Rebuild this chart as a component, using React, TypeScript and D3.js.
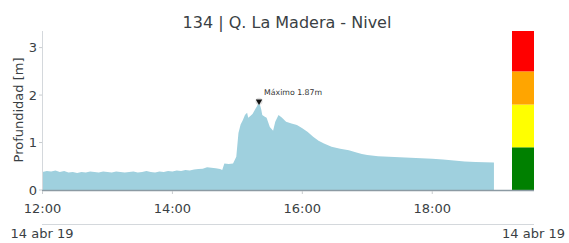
import React from "react";
import * as d3 from "d3";

const times: string[] = [
  "12:00","12:04","12:08","12:12","12:16","12:20","12:24","12:28","12:32","12:36",
  "12:40","12:44","12:48","12:52","12:56","13:00","13:04","13:08","13:12","13:16",
  "13:20","13:24","13:28","13:32","13:36","13:40","13:44","13:48","13:52","13:56",
  "14:00","14:04","14:08","14:12","14:16","14:20","14:24","14:28","14:32","14:36",
  "14:40","14:44","14:46","14:48","14:52","14:56","14:59","15:01","15:03","15:05",
  "15:07","15:09","15:10","15:12","15:14","15:17","15:18","15:20","15:22","15:23",
  "15:25","15:27","15:30","15:33","15:35","15:38","15:41","15:45","15:50","15:55",
  "16:00","16:05","16:10","16:15","16:20","16:27","16:35","16:43","16:50","16:55",
  "17:00","17:10","17:20","17:30","17:40","17:50","18:00","18:10","18:20","18:30",
  "18:40","18:57",
];
const levels: number[] = [
  0.38,0.40,0.39,0.41,0.38,0.40,0.37,0.38,0.36,0.38,
  0.37,0.39,0.38,0.37,0.39,0.38,0.37,0.39,0.38,0.37,
  0.38,0.39,0.37,0.38,0.40,0.38,0.37,0.39,0.38,0.40,
  0.39,0.41,0.40,0.42,0.41,0.43,0.44,0.45,0.48,0.47,
  0.46,0.44,0.42,0.56,0.55,0.56,0.70,1.20,1.38,1.47,
  1.58,1.63,1.52,1.56,1.60,1.72,1.76,1.87,1.70,1.58,
  1.55,1.52,1.33,1.25,1.44,1.58,1.53,1.44,1.40,1.37,
  1.30,1.22,1.12,1.04,0.98,0.91,0.87,0.84,0.79,0.76,
  0.74,0.71,0.70,0.69,0.68,0.67,0.66,0.64,0.62,0.60,
  0.59,0.58,
];
const xTickLabels: string[] = ["12:00", "14:00", "16:00", "18:00"];
const yTicks: number[] = [0, 1, 2, 3];
const dateLabel = "14 abr 19";
const title = "134 | Q. La Madera - Nivel";
const yLabel = "Profundidad [m]";
const thresholds: number[] = [0, 0.9, 1.8, 2.5, 3.35];
const thresholdColors: string[] = ["#008000", "#ffff00", "#ffa500", "#ff0000"];

const toMin = (s: string) => {
  const [h, m] = s.split(":").map(Number);
  return h * 60 + m;
};

export default function App() {
  const W = 569, H = 243;
  const x = d3.scaleLinear().domain([toMin("12:00"), toMin("19:34")]).range([42.5, 534]);
  const y = d3.scaleLinear().domain([0, 3.35]).range([190, 31]);
  const data = times.map((t, i) => ({ t: toMin(t), v: levels[i] }));
  const area = d3.area<{ t: number; v: number }>()
    .x(d => x(d.t)).y0(y(0)).y1(d => y(d.v));
  let maxI = 0;
  data.forEach((d, i) => { if (d.v > data[maxI].v) maxI = i; });
  const mx = x(data[maxI].t), my = y(data[maxI].v);
  const font = "DejaVu Sans, sans-serif";
  const textCol = "#3a3f44";
  return (
    <svg width={W} height={H} style={{ position: "absolute", left: 0, top: 0, background: "#fff" }}>
      <text x={287} y={28} textAnchor="middle" fontFamily={font} fontSize={16} fill={textCol}>{title}</text>
      <path d={area(data) || ""} fill="#9fd0de" />
      {/* y axis */}
      <line x1={42.5} x2={42.5} y1={31} y2={190} stroke="#d4d8dc" />
      {yTicks.map(t => (
        <g key={t}>
          <line x1={39} x2={42} y1={y(t)} y2={y(t)} stroke="#c8cccf" />
          <text x={37} y={y(t)} dy="0.35em" textAnchor="end" fontFamily={font} fontSize={13} fill={textCol}>{t}</text>
        </g>
      ))}
      <text transform={`translate(23,${110}) rotate(-90)`} textAnchor="middle" fontFamily={font} fontSize={13} fill={textCol}>{yLabel}</text>
      {/* threshold bar */}
      {thresholdColors.map((c, i) => (
        <rect key={c} x={512} width={22} y={y(thresholds[i + 1])} height={y(thresholds[i]) - y(thresholds[i + 1])} fill={c} />
      ))}
      {/* x axis */}
      <line x1={42} x2={534} y1={190.5} y2={190.5} stroke="#8c9aa3" strokeWidth={1.5} />
      {xTickLabels.map(l => (
        <g key={l}>
          <line x1={x(toMin(l))} x2={x(toMin(l))} y1={191} y2={194} stroke="#c8cccf" />
          <text x={x(toMin(l))} y={213} textAnchor="middle" fontFamily={font} fontSize={13} fill={textCol}>{l}</text>
        </g>
      ))}
      <line x1={42} x2={534} y1={224.5} y2={224.5} stroke="#d4d8dc" />
      <text x={42} y={238} textAnchor="middle" fontFamily={font} fontSize={13} fill={textCol}>{dateLabel}</text>
      <text x={565} y={238} textAnchor="end" fontFamily={font} fontSize={13} fill={textCol}>{dateLabel}</text>
      {/* max marker */}
      <circle cx={mx} cy={my} r={3.5} fill="#ddd" opacity={0.9} />
      <path d={d3.symbol(d3.symbolTriangle, 18)() || ""} transform={`translate(${mx},${my}) rotate(180)`} fill="#111" />
      <text x={mx + 5} y={my - 6} fontFamily={font} fontSize={7.8} fill="#333">Máximo {data[maxI].v.toFixed(2)}m</text>
    </svg>
  );
}
